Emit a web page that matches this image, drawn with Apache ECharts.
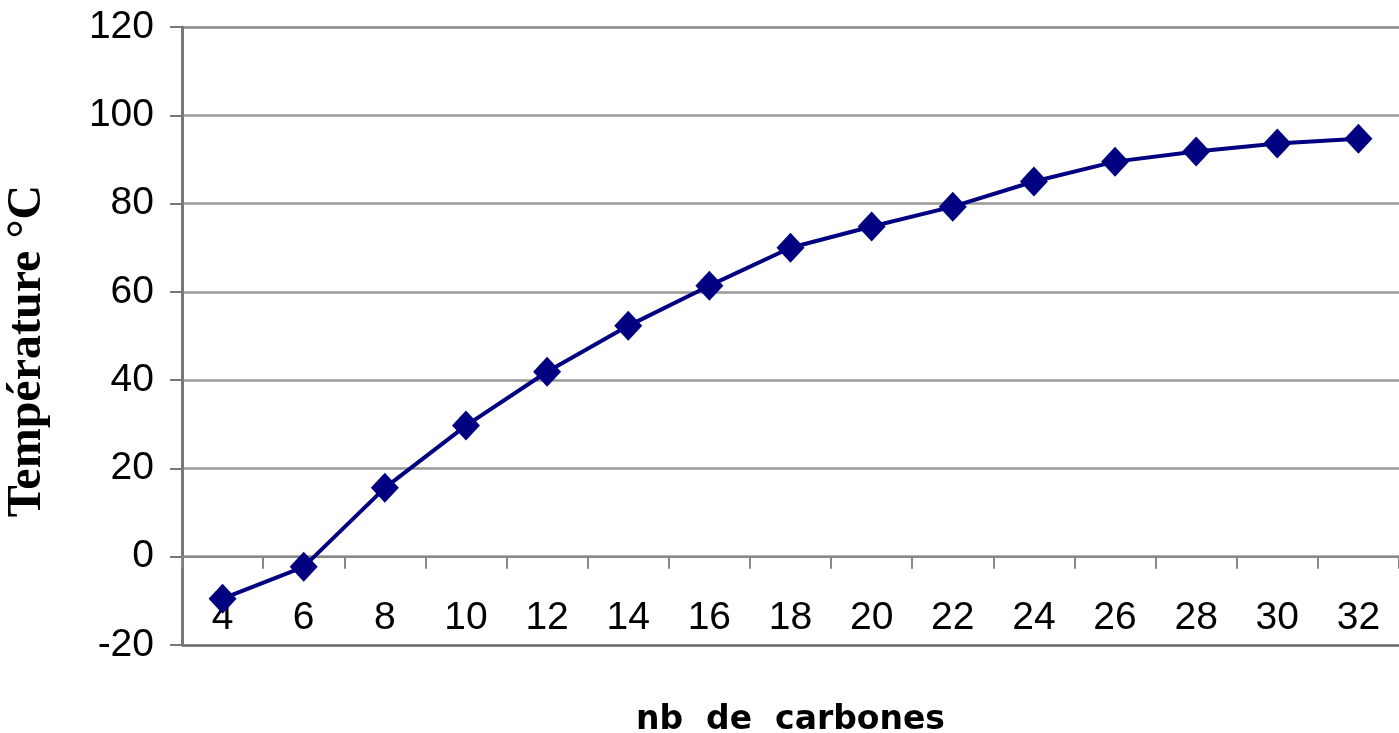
<!DOCTYPE html>
<html>
<head>
<meta charset="utf-8">
<script src="https://cdn.jsdelivr.net/npm/echarts@6/dist/echarts.min.js"></script>
<style>
  html, body { margin: 0; padding: 0; background: #fff; }
  #chart { width: 1399px; height: 733px; }
</style>
</head>
<body>
<div id="chart"></div>
<script>
// nombre d'atomes de carbone
const carbons = ["4", "6", "8", "10", "12", "14", "16", "18", "20", "22", "24", "26", "28", "30", "32"];
// température de fusion (°C)
const temperatures = [-9.5, -2.3, 15.6, 29.7, 41.9, 52.3, 61.4, 70, 74.8, 79.3, 85, 89.5, 91.8, 93.6, 94.7];

const chart = echarts.init(document.getElementById("chart"));

const option = {
  animation: false,
  grid: {left: 182, right: 0, top: 27, bottom: 88, containLabel: false, outerBoundsMode: "none"},
  xAxis: {
    type: "category",
    data: carbons,
    position: "bottom",
    name: "nb  de  carbones",
    nameLocation: "middle",
    nameGap: 59,
    nameTextStyle: {fontFamily: "DejaVu Sans", fontWeight: "bold", fontSize: 33, color: "#000"},
    axisLine: {onZero: true, lineStyle: {color: "#888", width: 2}},
    axisTick: {show: true, inside: false, length: 12, lineStyle: {color: "#888", width: 2}},
    axisLabel: {
      // les étiquettes sont posées entre 0 et -20
      margin: -46,
      fontFamily: "Liberation Sans",
      fontSize: 39,
      color: "#000"
    },
    splitLine: {show: false}
  },
  yAxis: {
    type: "value",
    min: -20,
    max: 120,
    interval: 20,
    name: "Température °C",
    nameLocation: "middle",
    nameRotate: 90,
    nameGap: 130,
    nameTextStyle: {fontFamily: "Liberation Serif", fontWeight: "bold", fontSize: 48, color: "#000", padding: [0, 30, 0, 0]},
    axisLine: {show: true, lineStyle: {color: "#777", width: 3}},
    axisTick: {show: true, length: 12, lineStyle: {color: "#777", width: 2}},
    axisLabel: {
      margin: 28,
      fontFamily: "Liberation Sans",
      fontSize: 39,
      color: "#000",
      padding: [8, 0, 0, 0]
    },
    // la première ligne (-20) sert de cadre, plus foncée
    splitLine: {show: true, lineStyle: {color: ["#666", "#999", "#999", "#999", "#999", "#999", "#999", "#888"], width: 2.5}}
  },
  series: [{
    type: "line",
    data: temperatures,
    symbol: "diamond",
    symbolSize: [28, 30],
    lineStyle: {color: "#000080", width: 4},
    itemStyle: {color: "#000080"}
  }]
};

chart.setOption(option);
</script>
</body>
</html>
